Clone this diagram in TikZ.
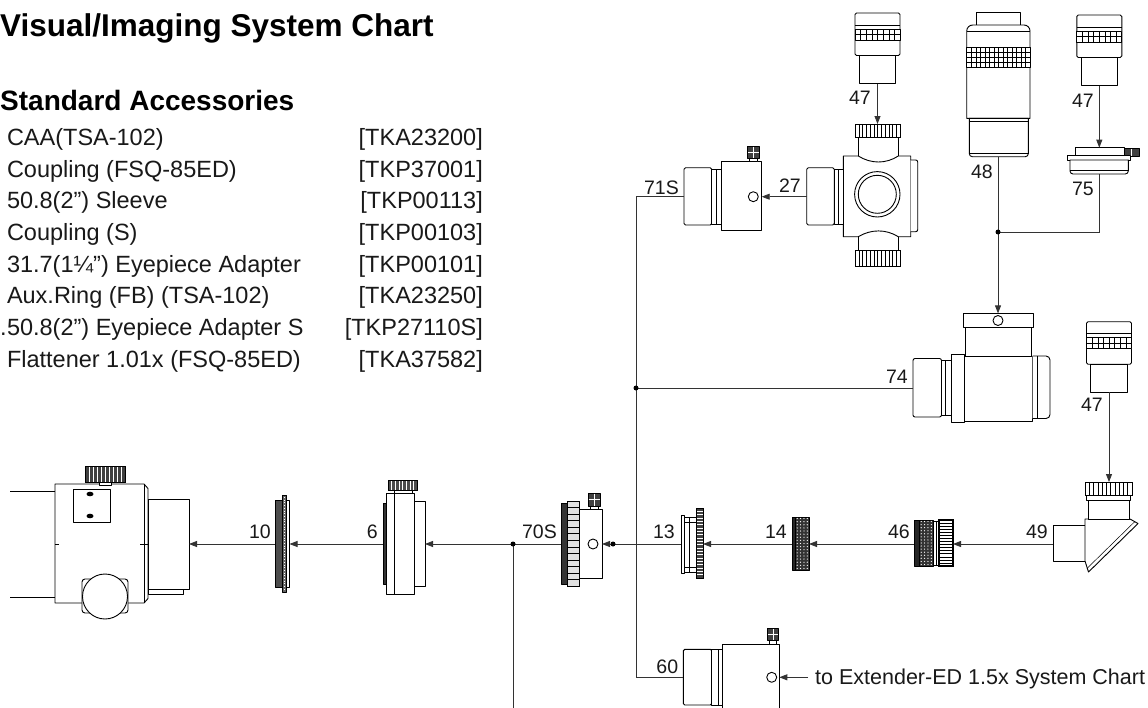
\documentclass[tikz,border=0pt]{standalone}
\usepackage{fontspec}
\setmainfont{Liberation Sans}
\usetikzlibrary{arrows.meta}
\tikzset{
 part/.style={draw=black, line width=0.9pt, fill=white, line join=round},
 thinl/.style={draw=black, line width=0.5pt},
 conn/.style={draw=black!80, line width=0.8pt},
 arr/.style={conn, -{Triangle[length=8pt,width=6pt]}},
 jdot/.style={circle, fill=black, inner sep=0pt, minimum size=5pt},
 num/.style={font=\fontsize{19.5}{19.5}\selectfont, inner sep=0pt, anchor=base east, text=black!90},
 listtxt/.style={font=\fontsize{23.5}{23.5}\selectfont, inner sep=0pt, anchor=base west, text=black!90},
 listcode/.style={font=\fontsize{23.5}{23.5}\selectfont, inner sep=0pt, anchor=base east, text=black!90},
}
\newcommand{\ribsV}[7]{%
  \draw[part,fill=#1] (#3,#4) rectangle (#5,#6);
  \foreach \k in {1,...,#7}{\draw[#2,line width=0.5pt] ({#3+(#5-#3)*\k/(#7+1)},#4) -- ({#3+(#5-#3)*\k/(#7+1)},#6);}
  \draw[part,fill=none] (#3,#4) rectangle (#5,#6);
}
\newcommand{\ribsH}[7]{%
  \draw[part,fill=#1] (#3,#4) rectangle (#5,#6);
  \foreach \k in {1,...,#7}{\draw[#2,line width=0.5pt] (#3,{#4+(#6-#4)*\k/(#7+1)}) -- (#5,{#4+(#6-#4)*\k/(#7+1)});}
  \draw[part,fill=none] (#3,#4) rectangle (#5,#6);
}
\newcommand{\dotknurl}[6]{%
  \draw[part,fill=black!80] (#1,#2) rectangle (#3,#4);
  \foreach \i in {1,...,#5}{\foreach \j in {1,...,#6}{\fill[white] ({#1+(#3-#1)*(\i-0.5)/#5},{#2+(#4-#2)*(\j-0.5)/#6}) circle (0.65);}}
}
\newcommand{\eyep}[2]{%
  \draw[part, rounded corners=1.5] ({#1-22.5},#2) rectangle ({#1+22.5},{#2+42.5});
  \draw[thinl] ({#1-22.5},{#2+12}) -- ({#1+22.5},{#2+12});
  \draw[part] ({#1-22.5},{#2+16}) rectangle ({#1+22.5},{#2+27});
  \draw[thinl] ({#1-22.5},{#2+21.5}) -- ({#1+22.5},{#2+21.5});
  \foreach \k in {1,...,7}{\draw[thinl] ({#1-22.5+\k*45/8},{#2+16}) -- ({#1-22.5+\k*45/8},{#2+27});}
  \draw[part] ({#1-18.3},{#2+42.5}) rectangle ({#1+18.3},{#2+70.5});
}
\begin{document}
\begin{tikzpicture}[x=1pt,y=-1pt]
\useasboundingbox (0,0) rectangle (1148,707);
\fill[white] (0,0) rectangle (1148,707);

% ---------- texts ----------
\node[anchor=base west, inner sep=0pt, font=\fontsize{31.5}{31.5}\selectfont\bfseries] (title) at (0,36) {Visual/Imaging System Chart};
\node[anchor=base west, inner sep=0pt, font=\fontsize{28}{28}\selectfont\bfseries] (stdacc) at (0,110) {Standard Accessories};

\node[listtxt] (l1) at (6.8,145.3) {CAA(TSA-102)};
\node[listtxt] (l2) at (6.8,177.0) {Coupling (FSQ-85ED)};
\node[listtxt] (l3) at (6.8,208.7) {50.8(2”) Sleeve};
\node[listtxt] (l4) at (6.8,240.4) {Coupling (S)};
\node[listtxt] (l5) at (6.8,272.1) {31.7(1¼”) Eyepiece Adapter};
\node[listtxt] (l6) at (6.8,303.8) {Aux.Ring (FB) (TSA-102)};
\node[listtxt] (l7dot) at (0,335.5) {.};
\node[listtxt] (l7) at (6.8,335.5) {50.8(2”) Eyepiece Adapter S};
\node[listtxt] (l8) at (6.8,367.2) {Flattener 1.01x (FSQ-85ED)};
\node[listcode] (c1) at (483,145.3) {[TKA23200]};
\node[listcode] (c2) at (483,177.0) {[TKP37001]};
\node[listcode] (c3) at (483,208.7) {[TKP00113]};
\node[listcode] (c4) at (483,240.4) {[TKP00103]};
\node[listcode] (c5) at (483,272.1) {[TKP00101]};
\node[listcode] (c6) at (483,303.8) {[TKA23250]};
\node[listcode] (c7) at (483,335.5) {[TKP27110S]};
\node[listcode] (c8) at (483,367.2) {[TKA37582]};

% ---------- CAA (telescope) ----------
\draw[part] (10,491) -- (55,491);
\draw[part] (10,597) -- (55,597);
\draw[part] (55,484) -- (144,484) -- (148,488.5) -- (148,598.5) -- (144,603) -- (55,603) -- cycle;
\draw[thinl] (144,484) -- (144,603);
\draw[thinl] (55,544) -- (59,544);
\draw[thinl] (140,544) -- (148,544);
\draw[part] (99,481) rectangle (111,485);
\ribsV{black!75}{white}{85}{466}{125}{482}{9}
\draw[part] (73,489) rectangle (110,522);
\fill (90,494) ellipse (3.5 and 2.3);
\fill (90,516) ellipse (3.5 and 2.3);
\draw[part, rounded corners=3] (82,579) rectangle (128,613);
\draw[part] (105,596.5) circle (22.5);
\draw[part] (148,589) rectangle (183,594);
\draw[part] (148,499) rectangle (189,589);

% ---------- 10 ----------
\draw[part, fill=black!70] (275,500) rectangle (282.7,587);
\draw[part, fill=black!60] (282.7,495) rectangle (286.7,592);
\draw[white, dotted, line width=0.7pt] (284.7,497) -- (284.7,590);
\draw[part] (286.7,500) rectangle (289.5,587);

% ---------- 6 ----------
\draw[part, fill=black!80] (383,503) rectangle (386,584);
\draw[part] (386,493) rectangle (414,594);
\draw[thinl] (394,493) -- (394,594);
\draw[part] (414,501) rectangle (425,586);
\draw[part] (394,489) rectangle (412,493);
\ribsV{black!70}{white}{388}{480}{417}{490}{7}

% ---------- 70S ----------
\draw[part, fill=black!80] (561,503) rectangle (567,584);
\ribsH{black!12}{black}{567}{501}{579}{586}{12}
\draw[part] (579,509) rectangle (602,578);
\draw[part] (590,505) rectangle (598,509);
\draw[part, fill=black!75] (588,493) rectangle (600,506);
\draw[white, line width=0.6pt] (588.5,499.5) -- (599.5,499.5) (594,493.5) -- (594,505.5);
\draw[part] (593,544) circle (5);

% ---------- 13 ----------
\draw[part] (681,515) rectangle (684.5,573);
\draw[part] (684.5,517) rectangle (696,572);
\draw[thinl] (684.5,522) -- (696,522);
\draw[thinl] (684.5,567) -- (696,567);
\draw[thinl] (689,517) -- (689,572);
\ribsH{black!75}{white}{696}{508}{703}{578}{20}

% ---------- 14 ----------
\draw[part, fill=black!85] (792,517) rectangle (795.5,570);
\dotknurl{795.5}{517}{809}{570}{4}{17}

% ---------- 46 ----------
\draw[part, fill=black!85] (914,520) rectangle (919.5,566);
\dotknurl{919.5}{520}{933}{566}{4}{15}
\draw[part] (933,521) rectangle (939,565);
\draw[thinl] (936.5,521) -- (936.5,565);
\ribsH{white}{black}{939}{520}{953}{566}{14}
\draw[draw=black, line width=1.8pt] (939,520) rectangle (953,566);

% ---------- 49 ----------
\draw[part] (1053,525) rectangle (1085,561);
\draw[part] (1085,519) -- (1130,519) -- (1138,523.5) -- (1088.5,572) -- (1085,561) -- cycle;
\draw[thinl] (1134.8,521.6) -- (1086.9,568.5);
\draw[part] (1088,500) rectangle (1129.5,519);
\draw[part] (1086.5,495.5) rectangle (1130.5,500);
\ribsV{white}{black}{1085}{482}{1132}{495.5}{10}

% ---------- 47 eyepieces ----------
\eyep{877.5}{13}
\eyep{1099.3}{15}
\eyep{1109}{321.7}

% ---------- 48 ----------
\draw[part] (976,12.7) rectangle (1020.7,25);
\draw[part] (966.7,118.3) [rounded corners=6] -- (966.7,25) -- (1030,25) [sharp corners] -- (1030,118.3) -- cycle;
\draw[thinl] (966.7,31.7) -- (1030,31.7);
\draw[part] (966.7,47.3) rectangle (1030,67.3);
\foreach \k in {1,...,13}{\draw[thinl] ({966.7+\k*63.3/14},47.3) -- ({966.7+\k*63.3/14},67.3);}
\foreach \yy in {52.3,57.3,62.3}{\draw[thinl] (966.7,\yy) -- (1030,\yy);}
\draw[part] (969.3,118.3) [rounded corners=3] -- (969.3,156.7) -- (1028.3,156.7) [sharp corners] -- (1028.3,118.3) -- cycle;
\draw[thinl] (969.3,121.7) -- (1028.3,121.7);
\draw[thinl] (969.3,153) -- (1028.3,153);

% ---------- 75 ----------
\draw[part] (1075,147.7) rectangle (1124.3,155);
\draw[part, fill=black!75] (1124.3,148.3) rectangle (1139,156.7);
\draw[white, line width=0.6pt] (1131,148.8) -- (1131,156.2);
\draw[part] (1067.3,155) rectangle (1130.7,160);
\draw[part] (1070,160) [rounded corners=3] -- (1070,174) -- (1128.3,174) [sharp corners] -- (1128.3,160) -- cycle;
\draw[thinl] (1070,170) -- (1128.3,170);

% ---------- 74 ----------
\draw[part, rounded corners=2] (913,358.5) rectangle (941.5,417);
\draw[part] (941.5,360) rectangle (951.6,415.5);
\draw[thinl] (945.5,360) -- (945.5,415.5);
\draw[part] (951.6,354) rectangle (964,422.5);
\draw[part] (964,356) rectangle (1032.5,421);
\draw[part, rounded corners=4] (1032.5,356) -- (1050,356) -- (1050,418.5) -- (1032.5,418.5);
\draw[thinl] (1037.5,356) -- (1037.5,418.5);
\draw[part] (965,327) rectangle (1031.5,356);
\draw[part] (963.4,313.4) rectangle (1033.5,327);
\draw[part] (998,320.5) circle (5);

% ---------- 27 ----------
\draw[part] (858.3,156) -- (858.3,136) -- (898.3,136) -- (898.3,156);
\draw[part] (858.3,237) -- (858.3,251) -- (898.3,251) -- (898.3,237);
\draw[part] (843.3,156) -- (858.3,156) .. controls (871,164) and (886,164) .. (898.3,156) -- (910.7,156) -- (910.7,236.7) -- (898.3,236.7) .. controls (886,229) and (871,229) .. (858.3,236.7) -- (843.3,236.7) -- cycle;
\draw[part, rounded corners=2] (910.7,160) -- (917.7,160) -- (917.7,231.7) -- (910.7,231.7);
\draw[part] (877.3,194.3) circle (22.7);
\draw[part] (877.3,194.3) circle (19);
\ribsV{white}{black}{855}{124}{900}{137}{11}
\ribsV{white}{black}{855}{250.7}{900}{266.7}{11}
\draw[part, rounded corners=1.5] (806.7,167.7) rectangle (834.3,225);
\draw[part] (834.3,169) rectangle (843.3,224);
\draw[thinl] (838,169) -- (838,224);

% ---------- 71S ----------
\draw[part, rounded corners=1.5] (684,167.7) rectangle (711.7,225);
\draw[part] (711.7,169) rectangle (721.7,224);
\draw[thinl] (716.7,169) -- (716.7,224);
\draw[part] (721.7,161.7) rectangle (761.7,230.7);
\draw[part] (749.5,157.5) rectangle (757.5,161.7);
\draw[part, fill=black!75] (747.7,146) rectangle (759.3,158);
\draw[white, line width=0.6pt] (748.2,152) -- (758.8,152) (753.5,146.5) -- (753.5,157.5);
\draw[part] (753.3,196.7) circle (5);

% ---------- 60 ----------
\draw[part, rounded corners=1.5] (683.3,649.3) rectangle (711.7,705);
\draw[part] (711.7,649.3) rectangle (722.7,705);
\draw[thinl] (718,649.3) -- (718,705);
\draw[part] (722.7,709) -- (722.7,644) -- (779.3,644) -- (779.3,709);
\draw[part] (769,639.5) rectangle (776.5,644);
\draw[part, fill=black!75] (767.3,628.3) rectangle (778.3,640);
\draw[white, line width=0.6pt] (767.8,634) -- (777.8,634) (772.8,628.8) -- (772.8,639.5);
\draw[part] (771.7,677.3) circle (5);

% ---------- connector coordinates ----------
\coordinate (caaR) at (189,544);
\coordinate (p10L) at (275,544);
\coordinate (p10R) at (289.5,544);
\coordinate (p6L) at (383,544);
\coordinate (p6R) at (425,544);
\coordinate (p70L) at (561,544);
\coordinate (p70R) at (602,544);
\coordinate (p13L) at (681,544);
\coordinate (p13R) at (703,544);
\coordinate (p14L) at (792,544);
\coordinate (p14R) at (809,544);
\coordinate (p46L) at (914,544);
\coordinate (p46R) at (953,544);
\coordinate (p49L) at (1053,544);
\coordinate (p49T) at (1109,482);
\coordinate (e47cB) at (1109,392.2);
\coordinate (e47aB) at (877.5,83.5);
\coordinate (p27T) at (877.5,124);
\coordinate (e47bB) at (1099.3,85.5);
\coordinate (p75T) at (1099.3,147.7);
\coordinate (p75B) at (1099.3,174);
\coordinate (j75) at (1099.3,232);
\coordinate (p48B) at (998,156.7);
\coordinate (j48) at (998,232);
\coordinate (p74T) at (998,313.4);
\coordinate (p74L) at (913,388);
\coordinate (j74) at (636,388);
\coordinate (p27L) at (806.7,196.7);
\coordinate (p71R) at (761.7,196.7);
\coordinate (p71L) at (684,196.7);
\coordinate (v71) at (636,196.7);
\coordinate (v60) at (636,677.3);
\coordinate (p60L) at (683.3,677.3);
\coordinate (p60R) at (779.3,677.3);
\coordinate (extS) at (808,677.3);
\coordinate (j70) at (513,544);
\coordinate (j70b) at (513,708);
\coordinate (j13) at (613,544);

% ---------- connectors ----------
\draw[arr] (p10L) -- (caaR);
\draw[arr] (p6L) -- (p10R);
\draw[arr] (p70L) -- (p6R);
\draw[conn] (j70) -- (j70b);
\draw[arr] (p13L) -- (p70R);
\draw[arr] (p14L) -- (p13R);
\draw[arr] (p46L) -- (p14R);
\draw[arr] (p49L) -- (p46R);
\draw[arr] (e47cB) -- (p49T);
\draw[arr] (e47aB) -- (p27T);
\draw[arr] (e47bB) -- (p75T);
\draw[conn] (p75B) -- (j75) -- (j48);
\draw[arr] (p48B) -- (p74T);
\draw[conn] (p74L) -- (j74);
\draw[arr] (p27L) -- (p71R);
\draw[conn] (p71L) -- (v71) -- (v60) -- (p60L);
\draw[arr] (extS) -- (p60R);
\node[jdot] (d70) at (j70) {};
\node[jdot] (d13) at (j13) {};
\node[jdot] (d74) at (j74) {};
\node[jdot] (d48) at (j48) {};

% ---------- labels ----------
\node[num] (n10) at (271,538) {10};
\node[num] (n6) at (378,538) {6};
\node[num] (n70S) at (557,538) {70S};
\node[num] (n13) at (675,538) {13};
\node[num] (n14) at (787,538) {14};
\node[num] (n46) at (910,538) {46};
\node[num] (n49) at (1048,538) {49};
\node[num] (n47c) at (1103,411.7) {47};
\node[num] (n47a) at (871,104.5) {47};
\node[num] (n47b) at (1094,107) {47};
\node[num] (n48) at (993,178.5) {48};
\node[num] (n75) at (1094,195) {75};
\node[num] (n74) at (908,383) {74};
\node[num] (n71S) at (679,194.5) {71S};
\node[num] (n27) at (801,192) {27};
\node[num] (n60) at (678.3,673) {60};
\node[anchor=base west, inner sep=0pt, font=\fontsize{21.5}{21.5}\selectfont, text=black!90] (ext) at (815,684.5) {to Extender-ED 1.5x System Chart};
\end{tikzpicture}
\end{document}
